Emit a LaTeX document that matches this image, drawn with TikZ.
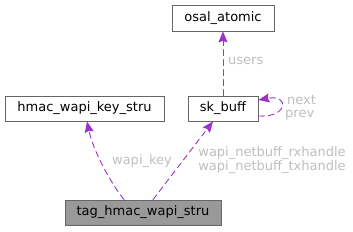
\documentclass[tikz,border=0pt]{standalone}
\usepackage{fontspec}
\setmainfont{DejaVu Sans}
\usetikzlibrary{arrows.meta}
\definecolor{edgepurple}{HTML}{9A32CD}
\definecolor{labelgray}{HTML}{BEBEBE}
\definecolor{boxgray}{HTML}{666666}
\tikzset{
  structbox/.style={draw=boxgray, fill=white, line width=0.8pt, inner sep=0pt,
                    minimum height=25pt, font=\fontsize{13}{15}\selectfont},
  rootbox/.style={structbox, fill=black!40},
  usesedge/.style={edgepurple, line width=0.9pt, dash pattern=on 6pt off 4pt,
                   -{Stealth[length=11pt, width=9pt, inset=1.5pt]}},
  edgelabel/.style={labelgray, font=\fontsize{13}{14.5}\selectfont, inner sep=0pt}
}

\begin{document}
\begin{tikzpicture}[x=1pt, y=-1pt, line cap=round]
    \useasboundingbox (0,0) rectangle (353,231);
    % --- cajas
    \node[structbox, minimum width=102pt, minimum height=26pt] (osal) at (223,18)    {osal\_atomic};
    \node[structbox, minimum width=159pt] (hkey) at (84.5,108.5) {hmac\_wapi\_key\_stru};
    \node[structbox, minimum width=70pt]  (skb)  at (223,108.5)  {sk\_buff};
    \node[rootbox,   minimum width=156pt] (tag)  at (143,212.5)  {tag\_hmac\_wapi\_stru};
    % --- relaciones
    \draw[usesedge] ([xshift=-19pt]tag.north)
         .. controls (110,182) and (93,150) .. ([xshift=2.5pt]hkey.south);
    \draw[usesedge] ([xshift=10pt]tag.north) -- ([xshift=-10pt]skb.south);
    \draw[usesedge] (skb.north) -- (osal.south);
    \draw[usesedge] ([yshift=-7.5pt]skb.east)
         .. controls (288,118) and (290,94) .. ([yshift=8.5pt]skb.east);
    % --- rotulos
    \node[edgelabel, anchor=west] (lusers) at (228,61) {users};
    \node[edgelabel, anchor=west] (lnext)  at (287,100) {next};
    \node[edgelabel, anchor=west] (lprev)  at (285,115) {prev};
    \node[edgelabel] (lkey) at (142,161) {wapi\_key};
    \node[edgelabel, align=center] (lrxtx) at (272,160)
         {wapi\_netbuff\_rxhandle\\wapi\_netbuff\_txhandle};
\end{tikzpicture}
\end{document}
